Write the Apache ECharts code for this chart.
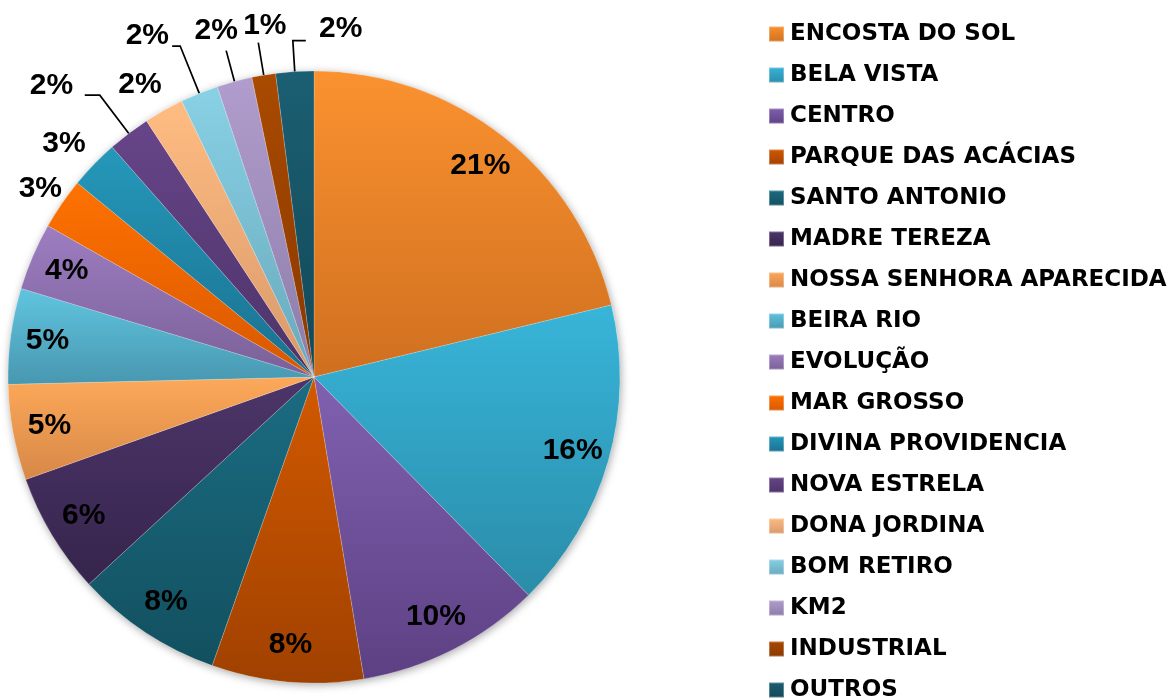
<!DOCTYPE html>
<html>
<head>
<meta charset="utf-8">
<script src="https://cdn.jsdelivr.net/npm/echarts@6/dist/echarts.min.js"></script>
<style>
html,body{margin:0;padding:0;background:#fff;}
#chart{width:1169px;height:700px;}
</style>
</head>
<body>
<div id="chart"></div>
<script>
// bairros e participacao (%)
var bairros = ['ENCOSTA DO SOL','BELA VISTA','CENTRO','PARQUE DAS ACÁCIAS','SANTO ANTONIO','MADRE TEREZA',
    'NOSSA SENHORA APARECIDA','BEIRA RIO','EVOLUÇÃO','MAR GROSSO','DIVINA PROVIDENCIA','NOVA ESTRELA',
    'DONA JORDINA','BOM RETIRO','KM2','INDUSTRIAL','OUTROS'];
var valores = [21.2,16.4,9.75,8.0,7.75,6.4,5.05,5.05,3.55,2.7,2.6,2.25,2.1,2.0,1.86,1.25,2.0];

var corTopo = ['#fb9230','#38b5d9','#8061b1','#d25900','#1b6c82','#4d3569',
    '#fda95a','#60c5df','#9d7dc1','#ff7200','#2598ba','#674589',
    '#ffbc82','#89d1e5','#b19dcd','#a94a00','#1b5f72'];
var corBase = ['#cf6f1f','#2a8ca9','#5d4083','#a04100','#12505f','#35244c',
    '#d78847','#4897b0','#7a6098','#d85700','#1a708f','#4d3368',
    '#d8986a','#68a8bc','#8c7ca8','#8a3800','#124858'];

// ajuste manual dos rotulos externos (como no excel), por indice da fatia
// afast = distancia do texto alem da borda, giro = graus, linha = trecho radial, perna = trecho horizontal
var rotExterno = {
    9:  {afast:26, giro:0,    linha:0,  perna:0},
    10: {afast:36, giro:-1,   linha:0,  perna:0},
    11: {afast:86, giro:-4.8, linha:48, perna:-15},
    12: {afast:34, giro:-1.4, linha:0,  perna:0},
    13: {afast:74, giro:-4,   linha:51, perna:-8},
    14: {afast:54, giro:-0.7, linha:32, perna:0},
    15: {afast:49, giro:1.5,  linha:33, perna:0},
    16: {afast:43, giro:8,    linha:31, perna:13}
};

var fonte = '"DejaVu Sans", sans-serif';
var fonteRot = '"Liberation Sans", Arial, sans-serif';
var cx = 314, cy = 377, raio = 306;

function grad(i){
    return new echarts.graphic.LinearGradient(0,0,0,1,[
        {offset:0,color:corTopo[i]},{offset:1,color:corBase[i]}
    ]);
}

var total = 0;
for (var k=0;k<valores.length;k++) total += valores[k];

var dadosPie=[];
var dadosRotulo=[];
for (var i=0;i<bairros.length;i++){
    var ext = rotExterno[i];
    dadosPie.push({
        name:bairros[i],
        value:valores[i],
        itemStyle:{color:grad(i)},
        label:{show: !!ext},
        labelLine:{show: !!(ext && ext.linha>0)}
    });
    dadosRotulo.push({
        name:bairros[i],
        value:valores[i],
        label:{show: !ext}
    });
}

function layoutRotulo(params){
    var cfg = rotExterno[params.dataIndex];
    if(!cfg || !params.labelLinePoints) return {};
    var p0 = params.labelLinePoints[0];
    var ang = Math.atan2(p0[1]-cy, p0[0]-cx);
    var angT = ang + cfg.giro*Math.PI/180;
    var rT = raio + cfg.afast;
    var res = {
        x: cx + rT*Math.cos(angT),
        y: cy + rT*Math.sin(angT),
        align:'center',
        verticalAlign:'middle'
    };
    if(cfg.linha>0){
        var p1 = [cx + (raio+cfg.linha)*Math.cos(ang), cy + (raio+cfg.linha)*Math.sin(ang)];
        var p2 = [p1[0]+cfg.perna, p1[1]];
        res.labelLinePoints = [[cx+raio*Math.cos(ang), cy+raio*Math.sin(ang)], p1, p2];
    }
    return res;
}

var chart = echarts.init(document.getElementById('chart'));
var option = {
    animation:false,
    legend:{
        orient:'vertical',
        left:763,
        top:17,
        height:760,
        itemWidth:15,
        itemHeight:15,
        itemGap:17,
        icon:'rect',
        textStyle:{
            fontFamily:fonte,
            fontWeight:'bold',
            fontSize:23,
            lineHeight:24,
            color:'#000',
            padding:[0,0,0,1]
        },
        data:bairros
    },
    series:[
        {
            // sombra do disco
            name:'fundo',
            type:'pie',
            center:[cx,cy],
            radius:raio,
            silent:true,
            legendHoverLink:false,
            z:1,
            itemStyle:{
                color:'#fff',
                shadowBlur:8,
                shadowColor:'rgba(0,0,0,0.35)',
                shadowOffsetX:1,
                shadowOffsetY:2
            },
            label:{show:false},
            labelLine:{show:false},
            emphasis:{disabled:true},
            data:[{name:'total',value:total}]
        },
        {
            name:'bairros',
            type:'pie',
            center:[cx,cy],
            radius:raio,
            startAngle:90,
            clockwise:true,
            avoidLabelOverlap:false,
            z:2,
            itemStyle:{
                borderColor:'rgba(255,255,255,0.3)',
                borderWidth:0.6
            },
            label:{
                position:'outside',
                fontFamily:fonteRot,
                fontWeight:'bold',
                fontSize:30,
                color:'#000',
                formatter:function(p){ return Math.round(p.percent)+'%'; }
            },
            labelLine:{
                length:10,
                length2:5,
                lineStyle:{color:'#000',width:1.7}
            },
            labelLayout:layoutRotulo,
            emphasis:{disabled:true},
            data:dadosPie
        },
        {
            name:'rotulos',
            type:'pie',
            center:[cx,cy],
            radius:[226,306],
            startAngle:90,
            silent:true,
            legendHoverLink:false,
            z:3,
            itemStyle:{color:'rgba(0,0,0,0)'},
            label:{
                position:'inside',
                fontFamily:fonteRot,
                fontWeight:'bold',
                fontSize:30,
                color:'#000',
                formatter:function(p){ return Math.round(p.percent)+'%'; }
            },
            labelLine:{show:false},
            emphasis:{disabled:true},
            data:dadosRotulo
        }
    ]
};
chart.setOption(option);
</script>
</body>
</html>
